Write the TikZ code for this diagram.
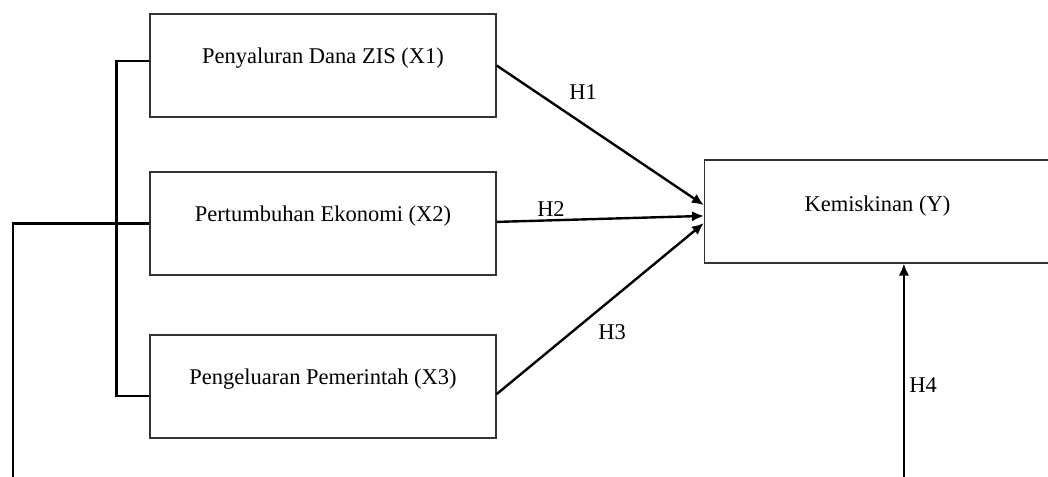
\documentclass[tikz,border=0pt]{standalone}
\usepackage{fontspec}
\setmainfont{Liberation Serif}
\usetikzlibrary{arrows.meta}
\tikzset{
  varbox/.style={draw=black!80, line width=0.9pt, minimum width=8.65cm, minimum height=2.575cm, inner sep=0pt},
  varname/.style={anchor=base, font=\fontsize{16}{19}\selectfont},
  hyp/.style={font=\fontsize{16}{19}\selectfont},
  link/.style={line width=1.7pt},
}
\begin{document}
\begin{tikzpicture}[>={Latex[length=8.5pt,width=7.5pt]}, x=0.025cm, y=-0.025cm]
\useasboundingbox (0,0) rectangle (1048,476);
\clip (0,0) rectangle (1048,476);
% variables
\node[varbox] (x1) at (323,65.5) {};
\node[varbox] (x2) at (323,223.5) {};
\node[varbox] (x3) at (323,386.5) {};
\node[varbox] (y) at (877.5,211.5) {};
\node[varname] (t1) at ([yshift=0.06cm]x1.center) {Penyaluran Dana ZIS (X1)};
\node[varname] (t2) at ([yshift=0.05cm]x2.center) {Pertumbuhan Ekonomi (X2)};
\node[varname] (t3) at ([yshift=0.05cm]x3.center) {Pengeluaran Pemerintah (X3)};
\node[varname] (ty) at (y.center) {Kemiskinan (Y)};
% partial effects
\draw[link,->] (x1.east) -- ([yshift=0.16cm]y.west);
\draw[link,->] ([yshift=0.04cm]x2.east) -- ([yshift=-0.11cm]y.west);
\draw[link,->] ([yshift=-0.19cm]x3.east) -- ([yshift=-0.29cm]y.west);
\node[hyp] (h1) at (583,92) {H1};
\node[hyp] (h2) at (551,209) {H2};
\node[hyp] (h3) at (612,332) {H3};
% simultaneous effect
\draw[link] ([yshift=0.11cm]x1.west) -- ++(-33,0) |- ([yshift=-0.24cm]x3.west);
\coordinate (bl) at (13,490);
\draw[link,->] (x2.west) -| (bl) -| ([xshift=0.66cm]y.south);
\node[hyp] (h4) at (923,385) {H4};
\end{tikzpicture}
\end{document}
